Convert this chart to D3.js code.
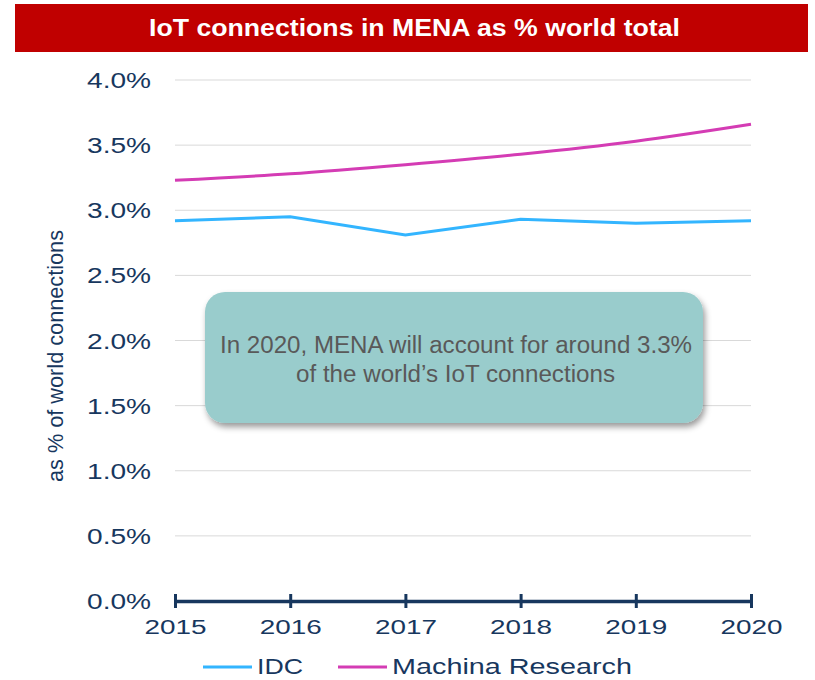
<!DOCTYPE html>
<html>
<head>
<meta charset="utf-8">
<script src="https://cdn.jsdelivr.net/npm/d3@7"></script>
<style>
  body { margin: 0; background: #fff; }
  svg { display: block; font-family: "Liberation Sans", Arial, sans-serif; }
</style>
</head>
<body>
<div id="chart"></div>
<script>
const width = 815;
const height = 680;

const years = [2015, 2016, 2017, 2018, 2019, 2020];
const idcValues = [2.92, 2.95, 2.81, 2.93, 2.90, 2.92];
const machinaValues = [3.23, 3.28, 3.35, 3.43, 3.53, 3.66];
const yTicks = [0, 0.5, 1, 1.5, 2, 2.5, 3, 3.5, 4];
const seriesNames = ['IDC', 'Machina Research'];
const seriesColors = ['#33b5ff', '#d43cb4'];

const navy = '#17375e';

const svg = d3.select('#chart')
  .append('svg')
  .attr('width', width)
  .attr('height', height);

// title bar
svg.append('rect')
  .attr('x', 15).attr('y', 4)
  .attr('width', 793).attr('height', 48)
  .attr('fill', '#c00000');
svg.append('text')
  .attr('x', 149).attr('y', 36)
  .attr('fill', '#fff')
  .attr('textLength', 531)
  .attr('lengthAdjust', 'spacingAndGlyphs')
  .style('font-weight', 'bold')
  .style('font-size', '23px')
  .text('IoT connections in MENA as % world total');

const xScale = d3.scaleLinear().domain([2015, 2020]).range([175, 751]);
const yScale = d3.scaleLinear().domain([0, 4]).range([601, 80]);

// gridlines
svg.append('g')
  .selectAll('line')
  .data(yTicks.filter(d => d > 0))
  .join('line')
  .attr('x1', xScale(2015))
  .attr('x2', xScale(2020))
  .attr('y1', d => yScale(d))
  .attr('y2', d => yScale(d))
  .attr('stroke', '#d9d9d9')
  .attr('stroke-width', 1);

// y axis labels (stretched wide like the original)
const yAxis = d3.axisLeft(yScale)
  .tickValues(yTicks)
  .tickFormat(d => d.toFixed(1) + '%')
  .tickSize(0)
  .tickPadding(0);
const yg = svg.append('g')
  .attr('transform', 'translate(151,0)')
  .call(yAxis);
yg.select('.domain').remove();
yg.selectAll('text')
  .attr('fill', navy)
  .attr('dy', null)
  .attr('y', 7.5)
  .attr('textLength', 64)
  .attr('lengthAdjust', 'spacingAndGlyphs')
  .style('font-size', '22px')
  .style('font-family', '"Liberation Sans", Arial, sans-serif');

// y axis title
svg.append('text')
  .attr('transform', 'translate(63,356) rotate(-90)')
  .attr('text-anchor', 'middle')
  .attr('fill', navy)
  .attr('textLength', 252)
  .attr('lengthAdjust', 'spacingAndGlyphs')
  .style('font-family', '"Liberation Sans Narrow", "Arial Narrow", sans-serif')
  .style('font-size', '22px')
  .text('as % of world connections');

// x axis
const xAxis = d3.axisBottom(xScale)
  .tickValues(years)
  .tickFormat(d3.format('d'))
  .tickSizeInner(7)
  .tickSizeOuter(0);
const xg = svg.append('g')
  .attr('transform', `translate(0,${yScale(0)})`)
  .call(xAxis);
xg.select('.domain')
  .attr('stroke', navy)
  .attr('stroke-width', 3.3);
xg.selectAll('.tick line')
  .attr('stroke', navy)
  .attr('stroke-width', 3)
  .attr('y1', -7)
  .attr('y2', 7);
xg.selectAll('.tick text')
  .attr('fill', navy)
  .attr('dy', null)
  .attr('y', 33)
  .attr('textLength', 62)
  .attr('lengthAdjust', 'spacingAndGlyphs')
  .style('font-size', '20.5px')
  .style('font-family', '"Liberation Sans", Arial, sans-serif');

// lines
const idcLine = d3.line()
  .x((d, i) => xScale(years[i]))
  .y(d => yScale(d));
const machinaLine = d3.line()
  .x((d, i) => xScale(years[i]))
  .y(d => yScale(d))
  .curve(d3.curveMonotoneX);

svg.append('path')
  .datum(idcValues)
  .attr('d', idcLine)
  .attr('fill', 'none')
  .attr('stroke', seriesColors[0])
  .attr('stroke-width', 3);
svg.append('path')
  .datum(machinaValues)
  .attr('d', machinaLine)
  .attr('fill', 'none')
  .attr('stroke', seriesColors[1])
  .attr('stroke-width', 3);

// annotation box with shadow
const defs = svg.append('defs');
const filter = defs.append('filter')
  .attr('id', 'shadow')
  .attr('x', '-10%').attr('y', '-10%')
  .attr('width', '120%').attr('height', '130%');
filter.append('feDropShadow')
  .attr('dx', 2).attr('dy', 4)
  .attr('stdDeviation', 3)
  .attr('flood-color', '#000')
  .attr('flood-opacity', 0.4);

svg.append('rect')
  .attr('x', 205).attr('y', 292)
  .attr('width', 498).attr('height', 131)
  .attr('rx', 20).attr('ry', 20)
  .attr('fill', '#99cccc')
  .attr('filter', 'url(#shadow)');

const note = svg.append('g')
  .attr('fill', '#595959')
  .style('font-size', '23.5px');
note.append('text')
  .attr('x', 220).attr('y', 353)
  .attr('textLength', 472)
  .attr('lengthAdjust', 'spacingAndGlyphs')
  .text('In 2020, MENA will account for around 3.3%');
note.append('text')
  .attr('x', 296).attr('y', 382)
  .attr('textLength', 319)
  .attr('lengthAdjust', 'spacingAndGlyphs')
  .text('of the world\u2019s IoT connections');

// legend
const legendX = [203, 338];
const legendW = [46, 240];
const legend = svg.append('g');
seriesNames.forEach((name, i) => {
  legend.append('line')
    .attr('x1', legendX[i]).attr('x2', legendX[i] + 49)
    .attr('y1', 667).attr('y2', 667)
    .attr('stroke', seriesColors[i])
    .attr('stroke-width', 3);
  legend.append('text')
    .attr('x', legendX[i] + 54).attr('y', 674)
    .attr('fill', navy)
    .attr('textLength', legendW[i])
    .attr('lengthAdjust', 'spacingAndGlyphs')
    .style('font-size', '22.5px')
    .text(name);
});
</script>
</body>
</html>
